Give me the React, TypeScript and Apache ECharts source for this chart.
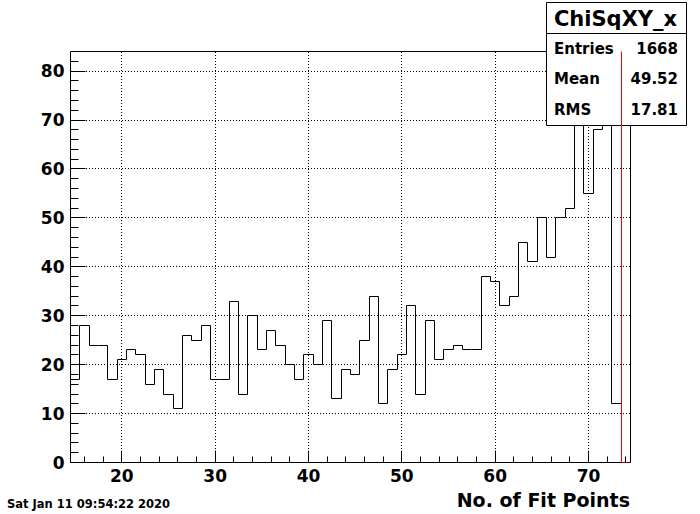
import React, { useEffect, useRef } from "react";
import * as echarts from "echarts";

// ---- data ----
const binCenters = [
  15, 16, 17, 18, 19, 20, 21, 22, 23, 24,
  25, 26, 27, 28, 29, 30, 31, 32, 33, 34,
  35, 36, 37, 38, 39, 40, 41, 42, 43, 44,
  45, 46, 47, 48, 49, 50, 51, 52, 53, 54,
  55, 56, 57, 58, 59, 60, 61, 62, 63, 64,
  65, 66, 67, 68, 69, 70, 71, 72, 73, 74,
];
const counts = [
  17, 28, 24, 24, 17, 21, 23, 22, 16, 19,
  14, 11, 26, 25, 28, 17, 17, 33, 14, 30,
  23, 27, 24, 20, 17, 22, 20, 29, 13, 19,
  18, 25, 34, 12, 19, 22, 32, 14, 29, 21,
  23, 24, 23, 23, 38, 37, 32, 34, 45, 41,
  50, 42, 50, 52, 73, 55, 68, 80, 12, 0,
];
const binWidth = 1;
// red overlay histogram: a single bin that runs off the top of the frame
const redBins = [74];
const redCounts = [150];

const xMin = 14.5;
const xMax = 74.5;
const yMin = 0;
const yMax = 84;

const xLabelValues = [20, 30, 40, 50, 60, 70];
const xMinorTicks = [16, 18, 22, 24, 26, 28, 32, 34, 36, 38, 42, 44, 46, 48, 52, 54, 56, 58, 62, 64, 66, 68, 72, 74];
const yLabelValues = [0, 10, 20, 30, 40, 50, 60, 70, 80];
const yMinorTicks = [2, 4, 6, 8, 12, 14, 16, 18, 22, 24, 26, 28, 32, 34, 36, 38, 42, 44, 46, 48, 52, 54, 56, 58, 62, 64, 66, 68, 72, 74, 76, 78, 82];
const xGridLines = [20, 30, 40, 50, 60, 70];
const yGridLines = [10, 20, 30, 40, 50, 60, 70, 80];

const statsTitle = "ChiSqXY_x";
const statsNames = ["Entries", "Mean", "RMS"];
const statsValues = ["1668", "49.52", "17.81"];
const xTitle = "No. of Fit Points";
const dateText = "Sat Jan 11 09:54:22 2020";

const FONT = "DejaVu Sans";
const snap = (v: number) => Math.round(v - 0.5) + 0.5;

export default function App() {
  const ref = useRef<HTMLDivElement>(null);

  useEffect(() => {
    if (!ref.current) return;
    const chart = echarts.init(ref.current, undefined, { renderer: "svg" });

    const labelStyle = {
      fontFamily: FONT,
      fontWeight: "bold" as const,
      fontSize: 17,
      color: "#000",
    };

    const option: any = {
      animation: false,
      grid: {
        left: 70.5,
        top: 51.5,
        width: 560,
        height: 411,
        show: true,
        borderColor: "#000",
        borderWidth: 1,
        backgroundColor: "#fff",
      },
      xAxis: {
        type: "value",
        min: xMin,
        max: xMax,
        axisLine: { show: false },
        axisTick: { show: false },
        splitLine: { show: false },
        axisLabel: {
          ...labelStyle,
          margin: 5,
          customValues: xLabelValues,
          formatter: (v: number) => (v % 10 === 0 ? String(v) : ""),
        },
      },
      yAxis: {
        type: "value",
        min: yMin,
        max: yMax,
        interval: 10,
        axisLine: { show: false },
        axisTick: { show: false },
        splitLine: { show: false },
        axisLabel: {
          ...labelStyle,
          margin: 6,
          customValues: yLabelValues,
          formatter: (v: number) => (v % 10 === 0 ? String(v) : ""),
        },
      },
      series: [
        {
          // ticks and dotted grid lines, placed through the axis scales
          type: "custom",
          z: 1,
          silent: true,
          data: [[xMin, yMin]],
          renderItem: (_params: any, api: any) => {
            const children: any[] = [];
            const yB = snap(api.coord([xMin, yMin])[1]);
            const yT = snap(api.coord([xMin, yMax])[1]);
            const xL = snap(api.coord([xMin, yMin])[0]);
            const xR = snap(api.coord([xMax, yMin])[0]);
            const solid = { stroke: "#000", lineWidth: 1 };
            const dotted = { stroke: "#000", lineWidth: 1, lineDash: [1, 2] };
            xGridLines.forEach((v) => {
              const x = snap(api.coord([v, yMin])[0]);
              children.push({ type: "line", shape: { x1: x, y1: yT + 0.5, x2: x, y2: yB }, style: dotted });
            });
            yGridLines.forEach((v) => {
              const y = snap(api.coord([xMin, v])[1]);
              children.push({ type: "line", shape: { x1: xL + 0.5, y1: y, x2: xR, y2: y }, style: dotted });
            });
            xLabelValues.forEach((v) => {
              const x = snap(api.coord([v, yMin])[0]);
              children.push({ type: "line", shape: { x1: x, y1: yB, x2: x, y2: yB - 12 }, style: solid });
            });
            xMinorTicks.forEach((v) => {
              const x = snap(api.coord([v, yMin])[0]);
              children.push({ type: "line", shape: { x1: x, y1: yB, x2: x, y2: yB - 6 }, style: solid });
            });
            yLabelValues.forEach((v) => {
              const y = snap(api.coord([xMin, v])[1]);
              children.push({ type: "line", shape: { x1: xL, y1: y, x2: xL + 15, y2: y }, style: solid });
            });
            yMinorTicks.forEach((v) => {
              const y = snap(api.coord([xMin, v])[1]);
              children.push({ type: "line", shape: { x1: xL, y1: y, x2: xL + 8, y2: y }, style: solid });
            });
            return { type: "group", children };
          },
        },
        {
          type: "custom",
          name: "ChiSqXY_x",
          z: 2,
          clip: true,
          silent: true,
          data: binCenters.map((c, i) => [c, counts[i]]),
          renderItem: (params: any, api: any) => {
            const i = params.dataIndex;
            const c = api.value(0);
            const v = api.value(1);
            const prev = i > 0 ? counts[i - 1] : 0;
            const xl = snap(api.coord([c - binWidth / 2, 0])[0]);
            const xr = snap(api.coord([c + binWidth / 2, 0])[0]);
            const yv = snap(api.coord([c, v])[1]);
            const yp = snap(api.coord([c, prev])[1]);
            const y0 = snap(api.coord([c, 0])[1]);
            const points: number[][] = [[xl, yp], [xl, yv], [xr, yv]];
            if (i === counts.length - 1) points.push([xr, y0]);
            return {
              type: "polyline",
              shape: { points },
              style: { stroke: "#000", lineWidth: 1, fill: "none" },
            };
          },
        },
        {
          type: "custom",
          name: "overlay",
          z: 10,
          clip: true,
          silent: true,
          data: redBins.map((c, i) => [c, redCounts[i]]),
          renderItem: (_params: any, api: any) => {
            const c = api.value(0);
            const v = api.value(1);
            const xl = snap(api.coord([c - binWidth / 2, 0])[0]);
            const xr = snap(api.coord([c + binWidth / 2, 0])[0]);
            const yv = snap(api.coord([c, v])[1]);
            const y0 = snap(api.coord([c, 0])[1]);
            return {
              type: "polyline",
              shape: { points: [[xr, y0], [xl, y0], [xl, yv], [xr, yv]] },
              style: { stroke: "#ff0000", lineWidth: 1, fill: "none" },
            };
          },
        },
      ],
      graphic: {
        elements: [
          {
            type: "rect",
            z: 5,
            silent: true,
            shape: { x: 546.5, y: 2.5, width: 140, height: 123 },
            style: { fill: "#fff", stroke: "#000", lineWidth: 1 },
          },
          {
            type: "line",
            z: 6,
            silent: true,
            shape: { x1: 546.5, y1: 33.5, x2: 686.5, y2: 33.5 },
            style: { stroke: "#000", lineWidth: 1 },
          },
          {
            type: "text",
            z: 6,
            silent: true,
            x: 615.5,
            y: 18.5,
            style: {
              text: statsTitle,
              fontFamily: FONT,
              fontWeight: "bold",
              fontSize: 21,
              fill: "#000",
              align: "center",
              verticalAlign: "middle",
            },
          },
          ...statsNames.map((n, i) => ({
            type: "text",
            z: 6,
            silent: true,
            x: 554,
            y: 48.5 + i * 30.8,
            style: {
              text: n,
              fontFamily: FONT,
              fontWeight: "bold",
              fontSize: 15,
              fill: "#000",
              align: "left",
              verticalAlign: "middle",
            },
          })),
          ...statsValues.map((n, i) => ({
            type: "text",
            z: 6,
            silent: true,
            x: 678,
            y: 48.5 + i * 30.8,
            style: {
              text: n,
              fontFamily: FONT,
              fontWeight: "bold",
              fontSize: 15,
              fill: "#000",
              align: "right",
              verticalAlign: "middle",
            },
          })),
          {
            type: "text",
            silent: true,
            x: 630,
            y: 500,
            style: {
              text: xTitle,
              fontFamily: FONT,
              fontWeight: "bold",
              fontSize: 19,
              fill: "#000",
              align: "right",
              verticalAlign: "middle",
            },
          },
          {
            type: "text",
            silent: true,
            x: 7,
            y: 504,
            style: {
              text: dateText,
              fontFamily: FONT,
              fontWeight: "bold",
              fontSize: 11.5,
              fill: "#000",
              align: "left",
              verticalAlign: "middle",
            },
          },
        ],
      },
    };

    chart.setOption(option);
    return () => chart.dispose();
  }, []);

  return (
    <div
      ref={ref}
      style={{ position: "fixed", left: 0, top: 0, width: 700, height: 514, background: "#fff" }}
    />
  );
}
